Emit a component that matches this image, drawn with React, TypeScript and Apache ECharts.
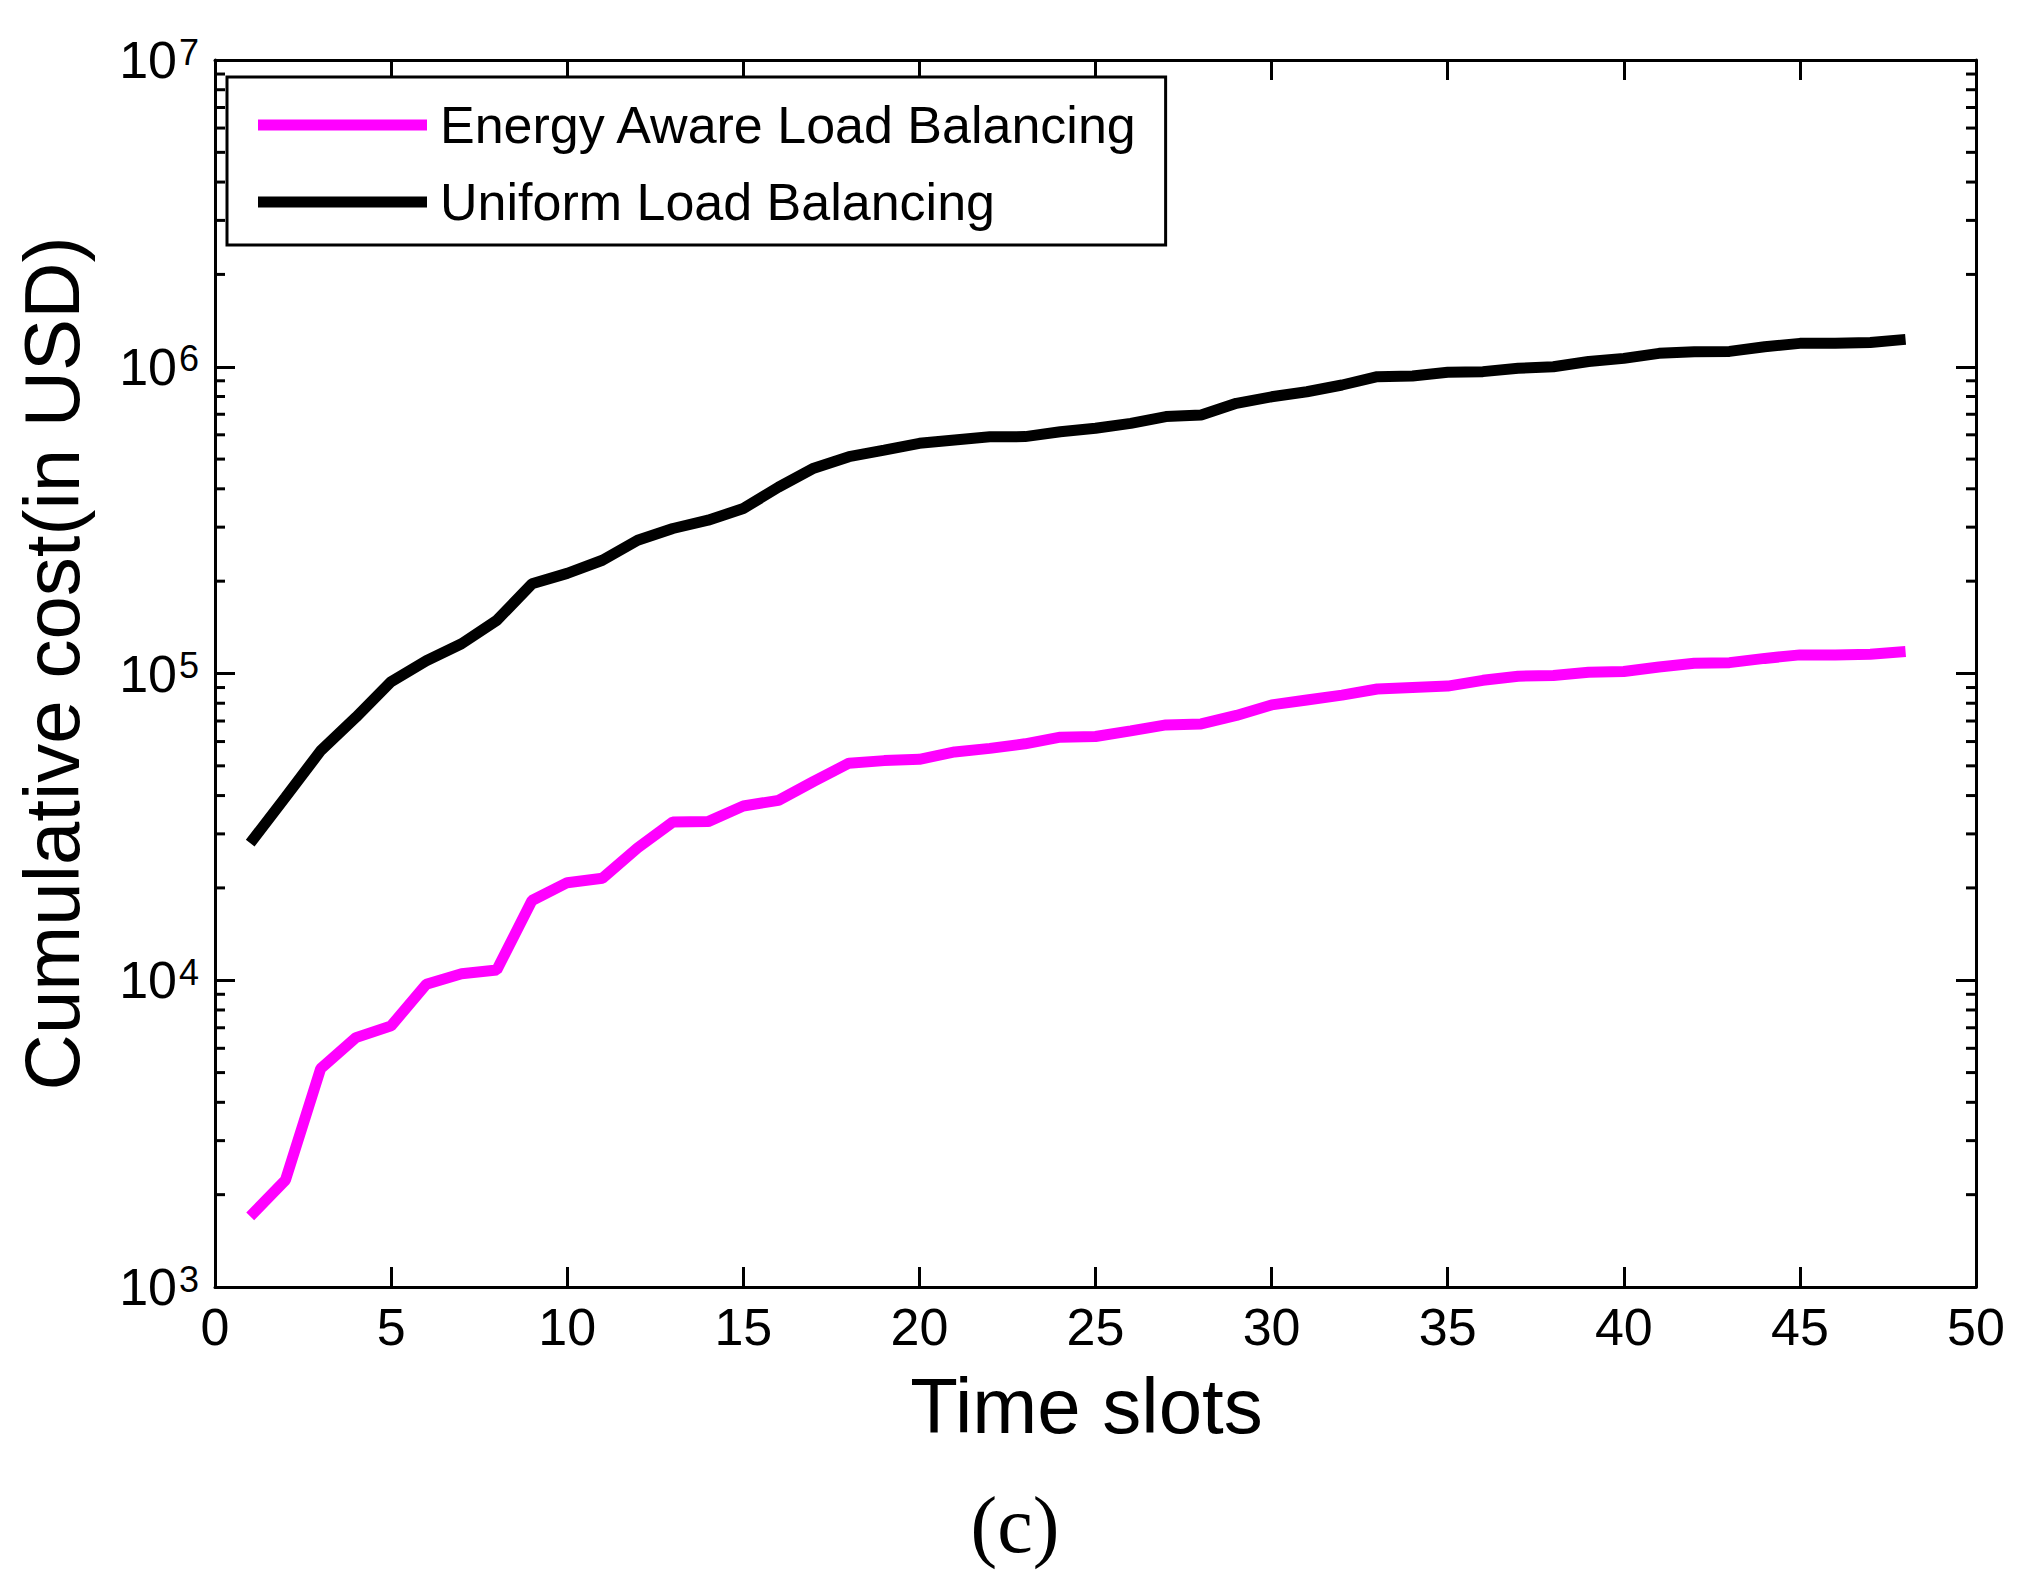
import React, { useEffect, useRef } from "react";
import * as echarts from "echarts";

const timeSlots = [
  1, 2, 3, 4, 5, 6, 7, 8, 9, 10, 11, 12, 13, 14, 15, 16, 17, 18, 19, 20, 21, 22, 23, 24,
  25, 26, 27, 28, 29, 30, 31, 32, 33, 34, 35, 36, 37, 38, 39, 40, 41, 42, 43, 44, 45, 46, 47, 48,
];

const energyAware = [
  1700, 2230, 5150, 6500, 7100, 9700, 10500, 10800, 18200, 20800, 21500, 27000,
  32800, 32900, 37000, 38600, 44500, 51000, 52000, 52500, 55500, 57000, 59000, 62000,
  62300, 65000, 68000, 68500, 73000, 79000, 82000, 85000, 89000, 90000, 91000, 95000,
  98000, 98500, 101000, 101500, 105000, 108000, 108500, 112000, 115000, 115000, 115500, 118000,
];

const uniform = [
  28000, 39500, 56000, 72000, 94000, 110000, 125000, 149000, 196000, 212000, 234000, 272000,
  297000, 316000, 345000, 405000, 467000, 509000, 535000, 563000, 577000, 591000, 592000, 614000,
  630000, 654000, 688000, 696000, 760000, 798000, 829000, 872000, 928000, 933000, 959000, 964000,
  989000, 1000000, 1040000, 1065000, 1106000, 1120000, 1122000, 1162000, 1192000, 1193000, 1200000, 1228000,
];

const seriesNames = ["Energy Aware Load Balancing", "Uniform Load Balancing"];
const seriesColors = ["#ff00ff", "#000000"];

const xMin = 0;
const xMax = 50;
const xInterval = 5;
const yMin = 1000;
const yMax = 10000000;

const minorTickValues = [
  2000, 3000, 4000, 5000, 6000, 7000, 8000, 9000,
  20000, 30000, 40000, 50000, 60000, 70000, 80000, 90000,
  200000, 300000, 400000, 500000, 600000, 700000, 800000, 900000,
  2000000, 3000000, 4000000, 5000000, 6000000, 7000000, 8000000, 9000000,
];

const FONT = "'Liberation Sans', Arial, sans-serif";

export default function App() {
  const ref = useRef<HTMLDivElement>(null);

  useEffect(() => {
    document.body.style.margin = "0";
    const chart = echarts.init(ref.current!, null, { renderer: "svg" });

    const axisLine = { show: true, onZero: false, lineStyle: { color: "#000", width: 3 } };
    const axisTick = { show: true, inside: true, length: 20, lineStyle: { color: "#000", width: 3 } };

    const option: any = {
      animation: false,
      backgroundColor: "#fff",
      grid: { left: 215, top: 60, right: 41, bottom: 297 },
      legend: {
        orient: "vertical",
        left: 227,
        top: 77,
        padding: [22, 27, 17, 31],
        itemWidth: 169,
        itemHeight: 11,
        itemGap: 25,
        icon: "rect",
        borderColor: "#000",
        borderWidth: 3,
        backgroundColor: "#fff",
        selectedMode: false,
        data: seriesNames,
        textStyle: {
          fontSize: 52,
          lineHeight: 52,
          fontFamily: FONT,
          color: "#000",
          padding: [0, 0, 0, 8],
        },
      },
      xAxis: [
        {
          type: "value",
          position: "bottom",
          min: xMin,
          max: xMax,
          interval: xInterval,
          axisLine,
          axisTick,
          splitLine: { show: false },
          axisLabel: { fontSize: 52, fontFamily: FONT, color: "#000", margin: 14 },
          name: "Time slots",
          nameLocation: "middle",
          nameGap: 80,
          nameTextStyle: { fontSize: 78, fontFamily: FONT, color: "#000", padding: [0, 18, 0, 0] },
        },
        {
          type: "value",
          position: "top",
          min: xMin,
          max: xMax,
          interval: xInterval,
          axisLine,
          axisTick,
          splitLine: { show: false },
          axisLabel: { show: false },
        },
      ],
      yAxis: [
        {
          type: "log",
          logBase: 10,
          position: "left",
          min: yMin,
          max: yMax,
          axisLine,
          axisTick,
          splitLine: { show: false },
          axisLabel: {
            margin: 16,
            formatter: (v: number) => `{b|10}{s|${Math.round(Math.log10(v))}}`,
            rich: {
              b: { fontSize: 52, lineHeight: 52, padding: [24, 0, 24, 0], fontFamily: FONT, color: "#000" },
              s: { fontSize: 36, lineHeight: 36, verticalAlign: "top", padding: [0, 0, 0, 2], fontFamily: FONT, color: "#000" },
            },
          },
          name: "Cumulative cost(in USD)",
          nameLocation: "middle",
          nameGap: 124,
          nameRotate: 90,
          nameTextStyle: { fontSize: 78, fontFamily: FONT, color: "#000", padding: [0, 0, 0, 20] },
        },
        {
          type: "log",
          logBase: 10,
          position: "right",
          min: yMin,
          max: yMax,
          axisLine,
          axisTick,
          splitLine: { show: false },
          axisLabel: { show: false },
        },
      ],
      series: [
        {
          name: seriesNames[0],
          type: "line",
          xAxisIndex: 0,
          yAxisIndex: 0,
          symbol: "none",
          showSymbol: false,
          lineStyle: { color: seriesColors[0], width: 11 },
          itemStyle: { color: seriesColors[0] },
          data: timeSlots.map((t, i) => [t, energyAware[i]]),
          z: 3,
        },
        {
          name: seriesNames[1],
          type: "line",
          xAxisIndex: 0,
          yAxisIndex: 0,
          symbol: "none",
          showSymbol: false,
          lineStyle: { color: seriesColors[1], width: 11 },
          itemStyle: { color: seriesColors[1] },
          data: timeSlots.map((t, i) => [t, uniform[i]]),
          z: 3,
        },
        {
          type: "custom",
          xAxisIndex: 0,
          yAxisIndex: 0,
          silent: true,
          clip: false,
          encode: { x: 0, y: 1 },
          data: minorTickValues.map((v) => [xMin, v]),
          renderItem: (params: any, api: any) => {
            const v = api.value(1);
            const pl = api.coord([xMin, v]);
            const pr = api.coord([xMax, v]);
            return {
              type: "group",
              children: [
                {
                  type: "line",
                  shape: { x1: pl[0], y1: pl[1], x2: pl[0] + 10, y2: pl[1] },
                  style: { stroke: "#000", lineWidth: 3 },
                },
                {
                  type: "line",
                  shape: { x1: pr[0] - 10, y1: pr[1], x2: pr[0], y2: pr[1] },
                  style: { stroke: "#000", lineWidth: 3 },
                },
              ],
            };
          },
          z: 4,
        },
      ],
      graphic: [
        {
          type: "text",
          x: 1015,
          y: 1525,
          style: {
            text: "(c)",
            fontSize: 80,
            fontFamily: "'Liberation Serif', 'Times New Roman', serif",
            fill: "#000",
            align: "center",
            verticalAlign: "middle",
          },
        },
      ],
    };

    chart.setOption(option);
    return () => chart.dispose();
  }, []);

  return <div ref={ref} style={{ width: 2017, height: 1584 }} />;
}
